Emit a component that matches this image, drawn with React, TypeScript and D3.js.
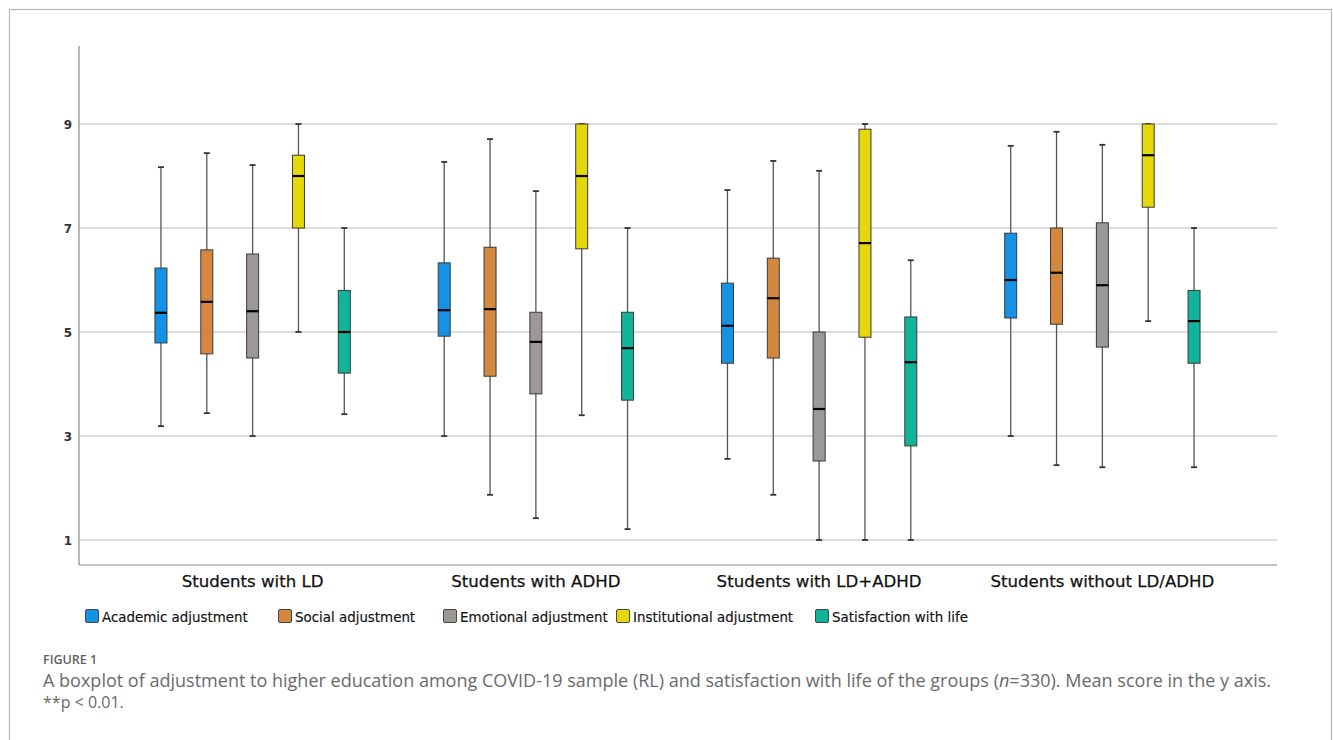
import React, { useEffect, useRef } from 'react';
import * as d3 from 'd3';

// groups on the x axis
const groups = ['Students with LD', 'Students with ADHD', 'Students with LD+ADHD', 'Students without LD/ADHD'];
const seriesNames = ['Academic adjustment', 'Social adjustment', 'Emotional adjustment', 'Institutional adjustment', 'Satisfaction with life'];
const seriesColors = ['#1591e6', '#d4883f', '#9c9898', '#e4d80a', '#11b39b'];

// [lower whisker, Q1, median, Q3, upper whisker] for each group
const academic = [
  [3.19, 4.79, 5.37, 6.23, 8.17],
  [3.0, 4.92, 5.42, 6.33, 8.27],
  [2.56, 4.4, 5.12, 5.94, 7.73],
  [3.0, 5.27, 6.0, 6.9, 8.58]
];
const social = [
  [3.44, 4.58, 5.58, 6.58, 8.44],
  [1.87, 4.15, 5.44, 6.63, 8.71],
  [1.87, 4.5, 5.65, 6.42, 8.29],
  [2.44, 5.15, 6.14, 7.0, 8.85]
];
const emotional = [
  [3.0, 4.5, 5.4, 6.5, 8.21],
  [1.42, 3.81, 4.81, 5.38, 7.71],
  [1.0, 2.52, 3.52, 5.0, 8.1],
  [2.4, 4.71, 5.9, 7.1, 8.6]
];
const institutional = [
  [5.0, 7.0, 8.0, 8.4, 9.0],
  [3.4, 6.6, 8.0, 9.0, 9.0],
  [1.0, 4.9, 6.71, 8.9, 9.0],
  [5.21, 7.4, 8.4, 9.0, 9.0]
];
const satisfaction = [
  [3.42, 4.21, 5.0, 5.8, 7.0],
  [1.21, 3.69, 4.69, 5.38, 7.0],
  [1.0, 2.81, 4.42, 5.29, 6.38],
  [2.4, 4.4, 5.21, 5.8, 7.0]
];
const allSeries = [academic, social, emotional, institutional, satisfaction];
const yTicks = [1, 3, 5, 7, 9];

const App = () => {
  const ref = useRef<SVGSVGElement>(null);

  useEffect(() => {
    const svg = d3.select(ref.current);
    svg.selectAll('*').remove();

    const left = 79;
    const right = 1277;
    const y = d3.scaleLinear().domain([0.52, 10.5]).range([565, 46]);
    const x0 = d3.scaleBand().domain(groups).range([111, 1244]).paddingInner(0).paddingOuter(0);
    const x1 = d3.scaleBand().domain(seriesNames).range([0, x0.bandwidth()]).paddingInner(0).paddingOuter(0.59);
    const boxW = 12;
    const capW = 6;

    // figure frame
    svg.append('rect')
      .attr('x', 9.5).attr('y', 9.5)
      .attr('width', 1322).attr('height', 745)
      .attr('fill', 'none').attr('stroke', '#b5b5b5').attr('stroke-width', 1.2);

    // gridlines
    svg.append('g')
      .selectAll('line')
      .data(yTicks)
      .enter()
      .append('line')
      .attr('x1', left).attr('x2', right)
      .attr('y1', (d) => y(d)).attr('y2', (d) => y(d))
      .attr('stroke', '#d2d2d2').attr('stroke-width', 1.5);

    // axes lines
    svg.append('line')
      .attr('x1', left).attr('x2', left).attr('y1', 46).attr('y2', y.range()[0])
      .attr('stroke', '#8a8a8a').attr('stroke-width', 1.2);
    svg.append('line')
      .attr('x1', left).attr('x2', right).attr('y1', y.range()[0]).attr('y2', y.range()[0])
      .attr('stroke', '#8a8a8a').attr('stroke-width', 1.2);

    svg.append('g')
      .selectAll('text')
      .data(yTicks)
      .enter()
      .append('text')
      .attr('x', 72)
      .attr('y', (d) => y(d) + 4.5)
      .attr('text-anchor', 'end')
      .style('font-family', 'DejaVu Sans')
      .style('font-size', '12px')
      .style('font-weight', 700)
      .style('fill', '#333')
      .text((d) => d);

    // boxes
    groups.forEach((g, gi) => {
      seriesNames.forEach((s, si) => {
        const [lo, q1, med, q3, hi] = allSeries[si][gi];
        const cx = (x0(g) as number) + (x1(s) as number) + x1.bandwidth() / 2;
        const bg = svg.append('g');
        bg.append('line')
          .attr('x1', cx).attr('x2', cx).attr('y1', y(hi)).attr('y2', y(lo))
          .attr('stroke', '#555').attr('stroke-width', 1.3);
        [lo, hi].forEach((v) => {
          bg.append('line')
            .attr('x1', cx - capW / 2).attr('x2', cx + capW / 2)
            .attr('y1', y(v)).attr('y2', y(v))
            .attr('stroke', '#333').attr('stroke-width', 1.8);
        });
        bg.append('rect')
          .attr('x', cx - boxW / 2).attr('width', boxW)
          .attr('y', y(q3)).attr('height', y(q1) - y(q3))
          .attr('fill', seriesColors[si])
          .attr('stroke', '#3a3a3a').attr('stroke-width', 1);
        bg.append('line')
          .attr('x1', cx - boxW / 2).attr('x2', cx + boxW / 2)
          .attr('y1', y(med)).attr('y2', y(med))
          .attr('stroke', '#000').attr('stroke-width', 2.2);
      });
    });

    // category labels
    svg.append('g')
      .selectAll('text')
      .data(groups)
      .enter()
      .append('text')
      .attr('x', (d) => (x0(d) as number) + x0.bandwidth() / 2)
      .attr('y', 587)
      .attr('text-anchor', 'middle')
      .style('font-family', 'DejaVu Sans')
      .style('font-size', '16.6px')
      .style('fill', '#111')
      .style('stroke', '#111')
      .style('stroke-width', 0.25)
      .text((d) => d);

    // legend
    const legendX = [85, 278, 443, 616, 815];
    const lg = svg.append('g')
      .selectAll('g')
      .data(seriesNames)
      .enter()
      .append('g')
      .attr('transform', (d, i) => `translate(${legendX[i]},609)`);
    lg.append('rect')
      .attr('x', 0.5).attr('y', 0.5).attr('width', 13).attr('height', 13).attr('rx', 1.5)
      .attr('fill', (d, i) => seriesColors[i])
      .attr('stroke', '#444').attr('stroke-width', 1);
    lg.append('text')
      .attr('x', 17).attr('y', 12.5)
      .style('font-family', 'DejaVu Sans')
      .style('font-size', '13.4px')
      .style('fill', '#111')
      .style('stroke', '#111')
      .style('stroke-width', 0.15)
      .text((d) => d);

    // caption
    const cap = svg.append('g').style('font-family', 'Open Sans').style('fill', '#6a6a6a');
    cap.append('text')
      .attr('x', 43).attr('y', 664)
      .style('font-size', '12.5px').style('font-weight', 600).style('fill', '#5f5f5f')
      .text('FIGURE 1');
    const line1 = cap.append('text').attr('x', 43).attr('y', 687).style('font-size', '16px');
    line1.append('tspan').text('A boxplot of adjustment to higher education among COVID-19 sample (RL) and satisfaction with life of the groups (');
    line1.append('tspan').style('font-style', 'italic').text('n');
    line1.append('tspan').text('=330). Mean score in the y axis.');
    const node = line1.node() as SVGTextElement;
    const len = node.getComputedTextLength();
    if (len > 0) line1.style('font-size', `${(16 * 1229) / len}px`);
    cap.append('text')
      .attr('x', 43).attr('y', 708)
      .style('font-size', '16px')
      .text('**p < 0.01.');
  }, []);

  return (
    <svg
      ref={ref}
      width={1333}
      height={740}
      style={{ position: 'absolute', left: 0, top: 0, background: '#fff' }}
    />
  );
};

export default App;
